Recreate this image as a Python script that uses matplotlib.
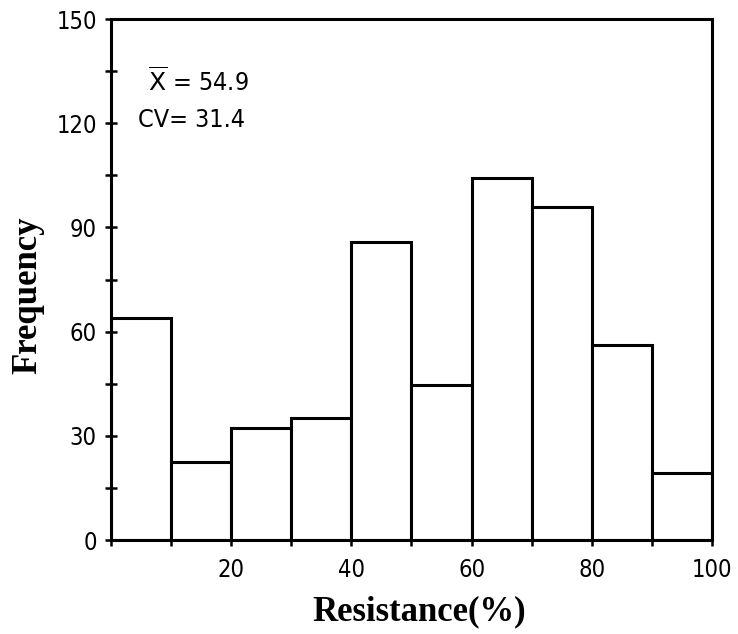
import matplotlib
matplotlib.use('Agg')
import matplotlib.pyplot as plt
import numpy as np

# histogram bins (resistance %) and counts
bin_edges = [0, 10, 20, 30, 40, 50, 60, 70, 80, 90, 100]
counts = [64, 22.5, 32.3, 35.2, 85.7, 44.7, 104.1, 96, 56.2, 19.3]
y_ticks = [0, 30, 60, 90, 120, 150]
x_ticks = [0, 10, 20, 30, 40, 50, 60, 70, 80, 90, 100]
x_labels = ['', '', '20', '', '40', '', '60', '', '80', '', '100']
mean_txt = '54.9'
cv_txt = '31.4'

tick_font = dict(family=['DejaVu Sans'], stretch='condensed', size=17)
note_font = dict(family=['DejaVu Sans'], stretch='condensed', size=18)
label_font = dict(family=['Liberation Serif', 'DejaVu Serif'], size=25, weight='bold')

fig = plt.figure(figsize=(7.38, 6.34), dpi=100)
ax = fig.add_axes([0.150, 0.148, 0.815, 0.822])

lefts = np.array(bin_edges[:-1])
widths = np.diff(bin_edges)
ax.bar(lefts, counts, width=widths, align='edge', facecolor='white',
       edgecolor='black', linewidth=2.2)

ax.set_xlim(0, 100)
ax.set_ylim(0, 150)

for s in ax.spines.values():
    s.set_linewidth(2.2)

ax.set_yticks(y_ticks)
ax.set_yticklabels([str(v) for v in y_ticks], **tick_font)
ax.set_yticks(np.arange(15, 150, 30), minor=True)
ax.set_xticks(x_ticks)
ax.set_xticklabels(x_labels, **tick_font)
ax.tick_params(axis='both', which='both', direction='inout', length=8, width=1.8)
ax.tick_params(axis='y', pad=6)
ax.tick_params(axis='x', pad=9)

ax.set_xlabel('Resistance(%)', **label_font)
ax.set_ylabel('Frequency', **label_font)
ax.xaxis.set_label_coords(0.513, -0.105)
ax.yaxis.set_label_coords(-0.11, 0.47)

ax.text(6.2, 132, r'$\overline{\mathrm{X}}$' + ' = ' + mean_txt, ha='left', va='center',
        **note_font)
ax.text(4.5, 121, 'CV= ' + cv_txt, ha='left', va='center', **note_font)

plt.savefig('out.png', dpi=100)
